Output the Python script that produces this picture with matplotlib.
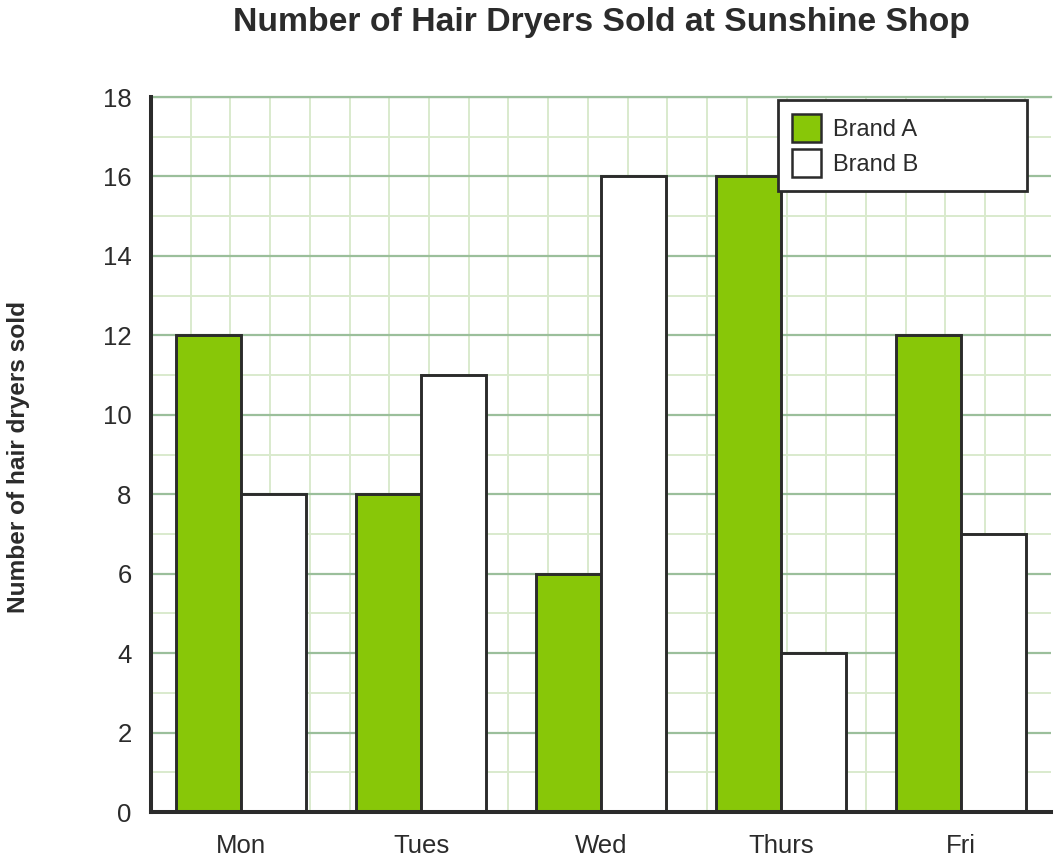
import numpy as np
import matplotlib
matplotlib.use('Agg')
import matplotlib.pyplot as plt
from matplotlib.patches import Patch

days = ['Mon', 'Tues', 'Wed', 'Thurs', 'Fri']
brand_a = [12, 8, 6, 16, 12]
brand_b = [8, 11, 16, 4, 7]

plt.rcParams['font.family'] = ['Liberation Sans', 'DejaVu Sans']
text_col = '#2b2b2b'
edge_col = '#2b2b2b'
green = '#88c708'
major_col = '#9bbf9b'

W, H, DPI = 1059, 861, 100
fig = plt.figure(figsize=(W / DPI, H / DPI), dpi=DPI)
left, right, top, bottom = 151, 1051, 97, 812
ax = fig.add_axes([left / W, 1 - bottom / H, (right - left) / W, (bottom - top) / H])

x = np.arange(len(days))
w = 65 / 180
ax.bar(x - w / 2, brand_a, w, color=green, edgecolor=edge_col, linewidth=2.1, zorder=3)
ax.bar(x + w / 2, brand_b, w, color='white', edgecolor=edge_col, linewidth=2.1, zorder=3)

ax.set_xlim(-0.5, len(days) - 0.5)
ax.set_ylim(0, 18)

# square grid: vertical line spacing matches one y unit in pixels
px_per_y = (bottom - top) / 18
step = px_per_y * (len(days)) / (right - left)
ax.set_xticks(x)
ax.set_xticklabels(days)
ax.set_xticks(np.arange(-0.5, len(days) - 0.5, step), minor=True)
ax.set_yticks(np.arange(0, 19, 2))
ax.set_yticks(np.arange(0, 19, 1), minor=True)

ax.grid(which='minor', axis='both', color='#d9eacd', linewidth=1.4, zorder=0)
ax.grid(which='major', axis='y', color=major_col, linewidth=1.6, zorder=1)
ax.axhline(18, color=major_col, linewidth=1.6, clip_on=False, zorder=1)
ax.set_axisbelow(True)

ax.tick_params(which='both', length=0)
ax.tick_params(axis='y', labelsize=18.5, pad=14, labelcolor=text_col)
ax.tick_params(axis='x', labelsize=18.5, pad=16, labelcolor=text_col)

for s in ['top', 'right']:
    ax.spines[s].set_visible(False)
for s in ['left', 'bottom']:
    ax.spines[s].set_color(edge_col)
    ax.spines[s].set_linewidth(2.9)
    ax.spines[s].set_zorder(4)

fig.text(601 / W, 1 - 22 / H, 'Number of Hair Dryers Sold at Sunshine Shop',
         ha='center', va='center', fontsize=24.3, fontweight='bold', color=text_col)
fig.text(19 / W, 1 - 457 / H, 'Number of hair dryers sold', rotation=90,
         ha='center', va='center', fontsize=17.6, fontweight='bold', color=text_col)

handles = [Patch(facecolor=green, edgecolor=edge_col, linewidth=1.8, label='Brand A'),
           Patch(facecolor='white', edgecolor=edge_col, linewidth=1.8, label='Brand B')]
leg = fig.legend(handles=handles, loc='upper left', mode='expand',
                 bbox_to_anchor=(778 / W, 1 - 192 / H, 249 / W, 92 / H),
                 borderaxespad=0, fontsize=17, handlelength=1.2, handleheight=1.45,
                 labelspacing=0.3, handletextpad=0.55, borderpad=0.6,
                 fancybox=False, framealpha=1, labelcolor=text_col)
leg.get_frame().set_edgecolor(edge_col)
leg.get_frame().set_linewidth(2.0)

fig.savefig('out.png', dpi=DPI)
